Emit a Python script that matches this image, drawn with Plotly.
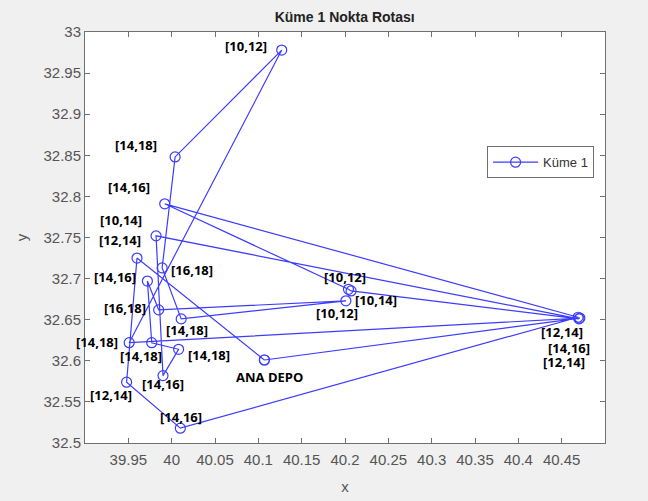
import plotly.graph_objects as go

# Route (in visiting order), closed back to the depot
route_x = [40.107, 39.960, 39.948, 40.010, 40.469, 39.992, 40.204, 40.207, 40.470, 39.982,
           39.990, 40.008, 39.977, 39.972, 39.985, 40.201, 40.011, 39.989, 40.004, 40.127,
           39.951, 40.471, 40.107]
route_y = [32.601, 32.725, 32.574, 32.518, 32.653, 32.791, 32.687, 32.685, 32.651, 32.752,
           32.582, 32.614, 32.622, 32.697, 32.662, 32.673, 32.651, 32.713, 32.848, 32.978,
           32.622, 32.652, 32.601]
route_labels = ["ANA DEPO", "[12,14]", "[12,14]", "[14,16]", "[12,14]", "[14,16]", "[10,12]",
                "[10,14]", "[14,16]", "[10,14]", "[14,16]", "[14,18]", "[14,18]", "[14,16]",
                "[16,18]", "[10,12]", "[14,18]", "[16,18]", "[14,18]", "[10,12]", "[14,18]",
                "[12,14]", "ANA DEPO"]

x_ticks = [39.95, 40.0, 40.05, 40.1, 40.15, 40.2, 40.25, 40.3, 40.35, 40.4, 40.45]
x_tick_text = ["39.95", "40", "40.05", "40.1", "40.15", "40.2", "40.25", "40.3", "40.35", "40.4", "40.45"]
y_ticks = [32.5, 32.55, 32.6, 32.65, 32.7, 32.75, 32.8, 32.85, 32.9, 32.95, 33.0]
y_tick_text = ["32.5", "32.55", "32.6", "32.65", "32.7", "32.75", "32.8", "32.85", "32.9", "32.95", "33"]

# label placement offsets in pixels (dx right, dy down) — style only
label_offsets = [(5, 17), (-17, -18), (-16, 13), (1, -11), (-16, 15), (-36, -17), (-3, -12),
                 (25, 9), (-10, 29), (-35, -16), (0, 8), (30, 6), (-11, 13), (-32, -4),
                 (-34, -2), (-9, 12), (6, 11), (30, 2), (-39, -12), (-36, -4), (-32, -1),
                 (-16, 44)]

LINE_BLUE = "#3c3cff"

fig = go.Figure()
fig.add_trace(go.Scatter(
    x=route_x, y=route_y, mode="lines+markers", name="Küme 1",
    line=dict(color=LINE_BLUE, width=1.2),
    marker=dict(symbol="circle-open", size=10, color=LINE_BLUE, line=dict(width=1.2, color=LINE_BLUE)),
))

for i in range(len(route_labels) - 1):
    dx, dy = label_offsets[i]
    fig.add_annotation(
        x=route_x[i], y=route_y[i], text=route_labels[i], showarrow=False,
        xshift=dx, yshift=-dy, xanchor="center", yanchor="middle",
        font=dict(family="Open Sans", size=13, color="black", weight="bold"),
    )

axis_common = dict(
    showgrid=False, zeroline=False, showline=True, linecolor="#707070", linewidth=1,
    mirror="ticks", ticks="inside", ticklen=5, tickcolor="#707070", automargin=False,
    tickfont=dict(family="Liberation Sans", size=15, color="#555555"),
)

fig.update_layout(
    width=648, height=501,
    margin=dict(l=85, r=43, t=32, b=58),
    paper_bgcolor="#f0f0f0", plot_bgcolor="white",
    title=dict(text="<b>Küme 1 Nokta Rotası</b>", x=0.532, xanchor="center", y=0.966, yanchor="middle",
               font=dict(family="Liberation Sans", size=14, color="#222222")),
    xaxis=dict(range=[39.9, 40.5], tickvals=x_ticks, ticktext=x_tick_text, ticklabelstandoff=3,
               title=dict(text="x", font=dict(family="Liberation Sans", size=15, color="#555555"), standoff=14),
               **axis_common),
    yaxis=dict(range=[32.5, 33.0], tickvals=y_ticks, ticktext=y_tick_text,
               title=dict(text="y", font=dict(family="Liberation Sans", size=15, color="#555555"), standoff=12),
               **axis_common),
    showlegend=True,
    legend=dict(x=0.979, y=0.722, xanchor="right", yanchor="top", bgcolor="white",
                bordercolor="#707070", borderwidth=1, itemwidth=45,
                font=dict(family="Liberation Sans", size=13, color="#333333")),
)

fig.write_html("out.html")
